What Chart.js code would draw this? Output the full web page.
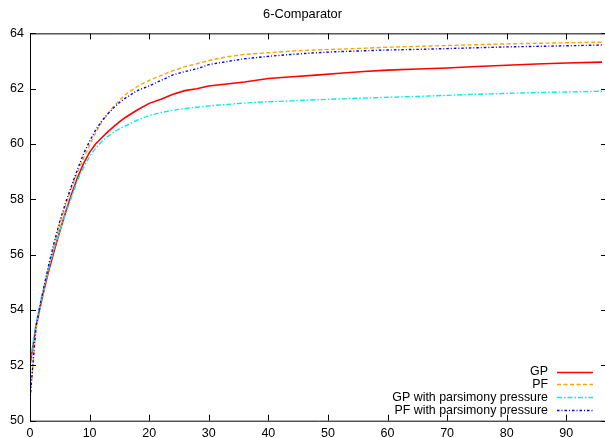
<!DOCTYPE html>
<html>
<head>
<meta charset="utf-8">
<script src="https://cdn.jsdelivr.net/npm/chart.js@4/dist/chart.umd.min.js"></script>
<style>
html,body{margin:0;padding:0;background:#fff;}
canvas{display:block;}
</style>
</head>
<body>
<canvas id="c" width="605" height="438"></canvas>
<script>
const titleText = "6-Comparator";
const seriesLabels = ["GP", "PF", "GP with parsimony pressure", "PF with parsimony pressure"];
const xs = [0,1,2,3,4,5,6,7,8,9,10,11,12,13,14,15,16,18,20,22,24,26,28,30,33,36,40,44,48,52,56,60,65,70,75,80,85,90,96];
const gp = [52.0,53.4,54.4,55.3,56.1,56.85,57.55,58.2,58.8,59.3,59.7,60.0,60.22,60.43,60.62,60.8,60.96,61.23,61.47,61.62,61.8,61.93,62.0,62.1,62.17,62.24,62.37,62.43,62.49,62.56,62.62,62.67,62.71,62.75,62.8,62.85,62.89,62.93,62.96];
const pf = [50.75,53.3,54.4,55.4,56.3,57.1,57.8,58.45,59.0,59.5,59.95,60.4,60.78,61.08,61.35,61.58,61.78,62.08,62.3,62.48,62.65,62.8,62.9,63.02,63.15,63.24,63.3,63.36,63.4,63.43,63.46,63.5,63.53,63.56,63.59,63.62,63.64,63.66,63.68];
const gpPars = [52.1,53.5,54.5,55.4,56.2,56.85,57.5,58.1,58.7,59.15,59.55,59.85,60.08,60.27,60.42,60.55,60.66,60.86,61.03,61.14,61.22,61.28,61.33,61.38,61.43,61.48,61.53,61.56,61.6,61.63,61.66,61.69,61.72,61.76,61.8,61.83,61.86,61.88,61.91];
const pfPars = [50.75,53.4,54.5,55.5,56.4,57.2,57.9,58.5,59.1,59.65,60.1,60.5,60.82,61.08,61.3,61.5,61.66,61.93,62.1,62.3,62.5,62.62,62.72,62.87,62.98,63.08,63.17,63.24,63.3,63.34,63.37,63.4,63.42,63.45,63.48,63.51,63.53,63.55,63.58];
const xTicks = [0,10,20,30,40,50,60,70,80,90];
const yTicks = [50,52,54,56,58,60,62,64];

const FONT = "'Liberation Sans', Arial, Helvetica, sans-serif";
const colors = ["#ff0000", "#ffa500", "#00eeee", "#0000ff"];
const dashes = [[], [4, 2.5], [5, 2, 1.5, 2], [2.5, 2, 1, 2]];
const widths = [1.6, 1.4, 1.4, 1.4];
const allSeries = [gp, pf, gpPars, pfPars];

const datasets = allSeries.map((s, i) => ({
  label: seriesLabels[i],
  data: xs.map((x, j) => ({x: x, y: s[j]})),
  borderColor: colors[i],
  backgroundColor: colors[i],
  borderWidth: widths[i],
  borderDash: dashes[i],
  pointRadius: 0,
  tension: 0,
  fill: false,
  order: 4 - i
}));

const framePlugin = {
  id: 'frame',
  afterDraw(chart) {
    const ctx = chart.ctx;
    const a = chart.chartArea;
    const xs_ = chart.scales.x, ys_ = chart.scales.y;
    ctx.save();
    ctx.strokeStyle = '#000';
    ctx.lineWidth = 1;
    ctx.setLineDash([]);
    ctx.beginPath();
    ctx.moveTo(a.left + 0.5, a.top + 0.5);
    ctx.lineTo(a.left + 0.5, a.bottom + 0.5);
    ctx.lineTo(a.right + 2, a.bottom + 0.5);
    ctx.moveTo(a.left + 0.5, a.top + 0.5);
    ctx.lineTo(a.right + 2, a.top + 0.5);
    ctx.stroke();
    ctx.beginPath();
    xTicks.forEach(v => {
      const px = Math.round(xs_.getPixelForValue(v)) + 0.5;
      ctx.moveTo(px, a.bottom);
      ctx.lineTo(px, a.bottom - 6);
      ctx.moveTo(px, a.top);
      ctx.lineTo(px, a.top + 6);
    });
    yTicks.forEach(v => {
      const py = Math.round(ys_.getPixelForValue(v)) + 0.5;
      ctx.moveTo(a.left, py);
      ctx.lineTo(a.left + 6, py);
      ctx.moveTo(a.right + 2, py);
      ctx.lineTo(a.right - 4, py);
    });
    ctx.stroke();
    ctx.font = "12.4px " + FONT;
    ctx.fillStyle = '#000';
    ctx.textAlign = 'right';
    ctx.textBaseline = 'middle';
    const y0 = 371.5, step = 12.8;
    datasets.forEach((d, i) => {
      const y = y0 + i * step;
      ctx.fillText(d.label, 548, y + 0.5);
      ctx.beginPath();
      ctx.strokeStyle = d.borderColor;
      ctx.lineWidth = d.borderWidth;
      ctx.setLineDash(d.borderDash);
      ctx.moveTo(557, Math.round(y) + 0.5);
      ctx.lineTo(593, Math.round(y) + 0.5);
      ctx.stroke();
    });
    ctx.restore();
  }
};

new Chart(document.getElementById('c'), {
  type: 'line',
  data: { datasets: datasets },
  options: {
    responsive: false,
    animation: false,
    devicePixelRatio: 1,
    layout: { padding: { left: 0, right: 0, top: 0, bottom: 0 } },
    plugins: {
      legend: { display: false },
      tooltip: { enabled: false },
      title: {
        display: true,
        text: titleText,
        color: '#000',
        font: { family: FONT, size: 12.8, weight: 'normal' },
        padding: { top: 6.5, bottom: 11.5 }
      }
    },
    scales: {
      x: {
        type: 'linear',
        min: 0,
        max: 96.5,
        grid: { display: false, drawTicks: false },
        border: { display: false },
        ticks: {
          stepSize: 10,
          includeBounds: false,
          maxRotation: 0,
          autoSkip: false,
          padding: 5,
          color: '#000',
          font: { family: FONT, size: 12.5 }
        },
        afterFit(scale) { scale.height = 17.3; }
      },
      y: {
        type: 'linear',
        min: 50,
        max: 64,
        grid: { display: false, drawTicks: false },
        border: { display: false },
        ticks: {
          stepSize: 2,
          padding: 6,
          color: '#000',
          font: { family: FONT, size: 12.5 }
        },
        afterFit(scale) { scale.width = 30; }
      }
    }
  },
  plugins: [framePlugin]
});
</script>
</body>
</html>
